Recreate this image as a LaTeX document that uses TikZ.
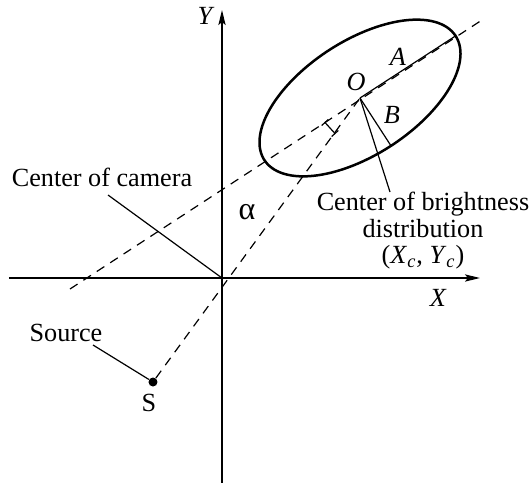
\documentclass[tikz,border=0pt]{standalone}
\usepackage{fontspec}
\setmainfont{Liberation Serif}
\usetikzlibrary{arrows.meta}
\begin{document}
\begin{tikzpicture}[x=0.5pt,y=-0.5pt,
  lbl/.style={inner sep=0pt,font=\fontsize{13.1}{13.25}\selectfont},
  thin line/.style={line width=0.6pt},
  axis/.style={line width=0.75pt,-{Stealth[length=7.5pt,width=3.6pt,inset=1.5pt]}},
  dashline/.style={line width=0.6pt,dash pattern=on 4.5pt off 3.5pt},
  ell/.style={line width=1.25pt}]
\useasboundingbox (0,0) rectangle (532,483);
% axes
\coordinate (o) at (222,278);
\coordinate (ybot) at (222,483);
\coordinate (ytop) at (222,10);
\coordinate (xl) at (9,278);
\coordinate (xr) at (480,278);
\draw[axis] (ybot) -- (ytop);
\draw[axis] (xl) -- (xr);
\node[lbl] (ylab) at (205,16) {\itshape Y};
\node[lbl] (xlab) at (438,298) {\itshape X};
% ellipse
\coordinate (O) at (360,98);
\draw[ell] plot[domain=0:360, samples=120, smooth cycle]
  ({360+114*cos(\x)*cos(33)+57*sin(\x)*sin(33)},
   {98-114*cos(\x)*sin(33)+57*sin(\x)*cos(33)});
\coordinate (Aend) at (455.6,35.9);
\coordinate (Bend) at (391,145.8);
\draw[thin line] (O) -- (Aend);
\draw[thin line] (O) -- (Bend);
\node[lbl] (Olab) at (356,82) {\itshape O};
\node[lbl] (Alab) at (398,57) {\itshape A};
\node[lbl] (Blab) at (392,115) {\itshape B};
% dashed lines
\coordinate (d1a) at (70,289);
\coordinate (d1b) at (482,20);
\draw[dashline] (d1a) -- (d1b);
\node[circle,fill=black,inner sep=0pt,minimum size=4.5pt] (S) at (153,382) {};
\draw[dashline] (S) -- (O);
% angle mark
\coordinate (m1) at (325,122.5);
\coordinate (m2) at (335,133.5);
\coordinate (t1a) at (321.7,125.5);
\coordinate (t1b) at (328.3,119.5);
\coordinate (t2a) at (331.7,136.5);
\coordinate (t2b) at (338.3,130.5);
\draw[thin line] (m1) -- (m2) (t1a) -- (t1b) (t2a) -- (t2b);
\node[lbl,font=\fontsize{16}{16}\selectfont] (alpha) at (247,212) {α};
% labels and leaders
\node[lbl] (cam) at (102,177) {Center of camera};
\coordinate (camlead) at (108,195);
\draw[thin line] (camlead) -- (o);
\node[lbl,align=center] (bright) at (423,231) {Center of brightness\\distribution\\(\textit{X}\textsubscript{\textit{c}}, \textit{Y}\textsubscript{\textit{c}})};
\coordinate (brlead) at (390,192);
\draw[thin line] (O) -- (brlead);
\node[lbl] (src) at (66,333) {Source};
\coordinate (srclead) at (93,345);
\draw[thin line] (srclead) -- (S);
\node[lbl] (Slab) at (149,403) {S};
\end{tikzpicture}
\end{document}
